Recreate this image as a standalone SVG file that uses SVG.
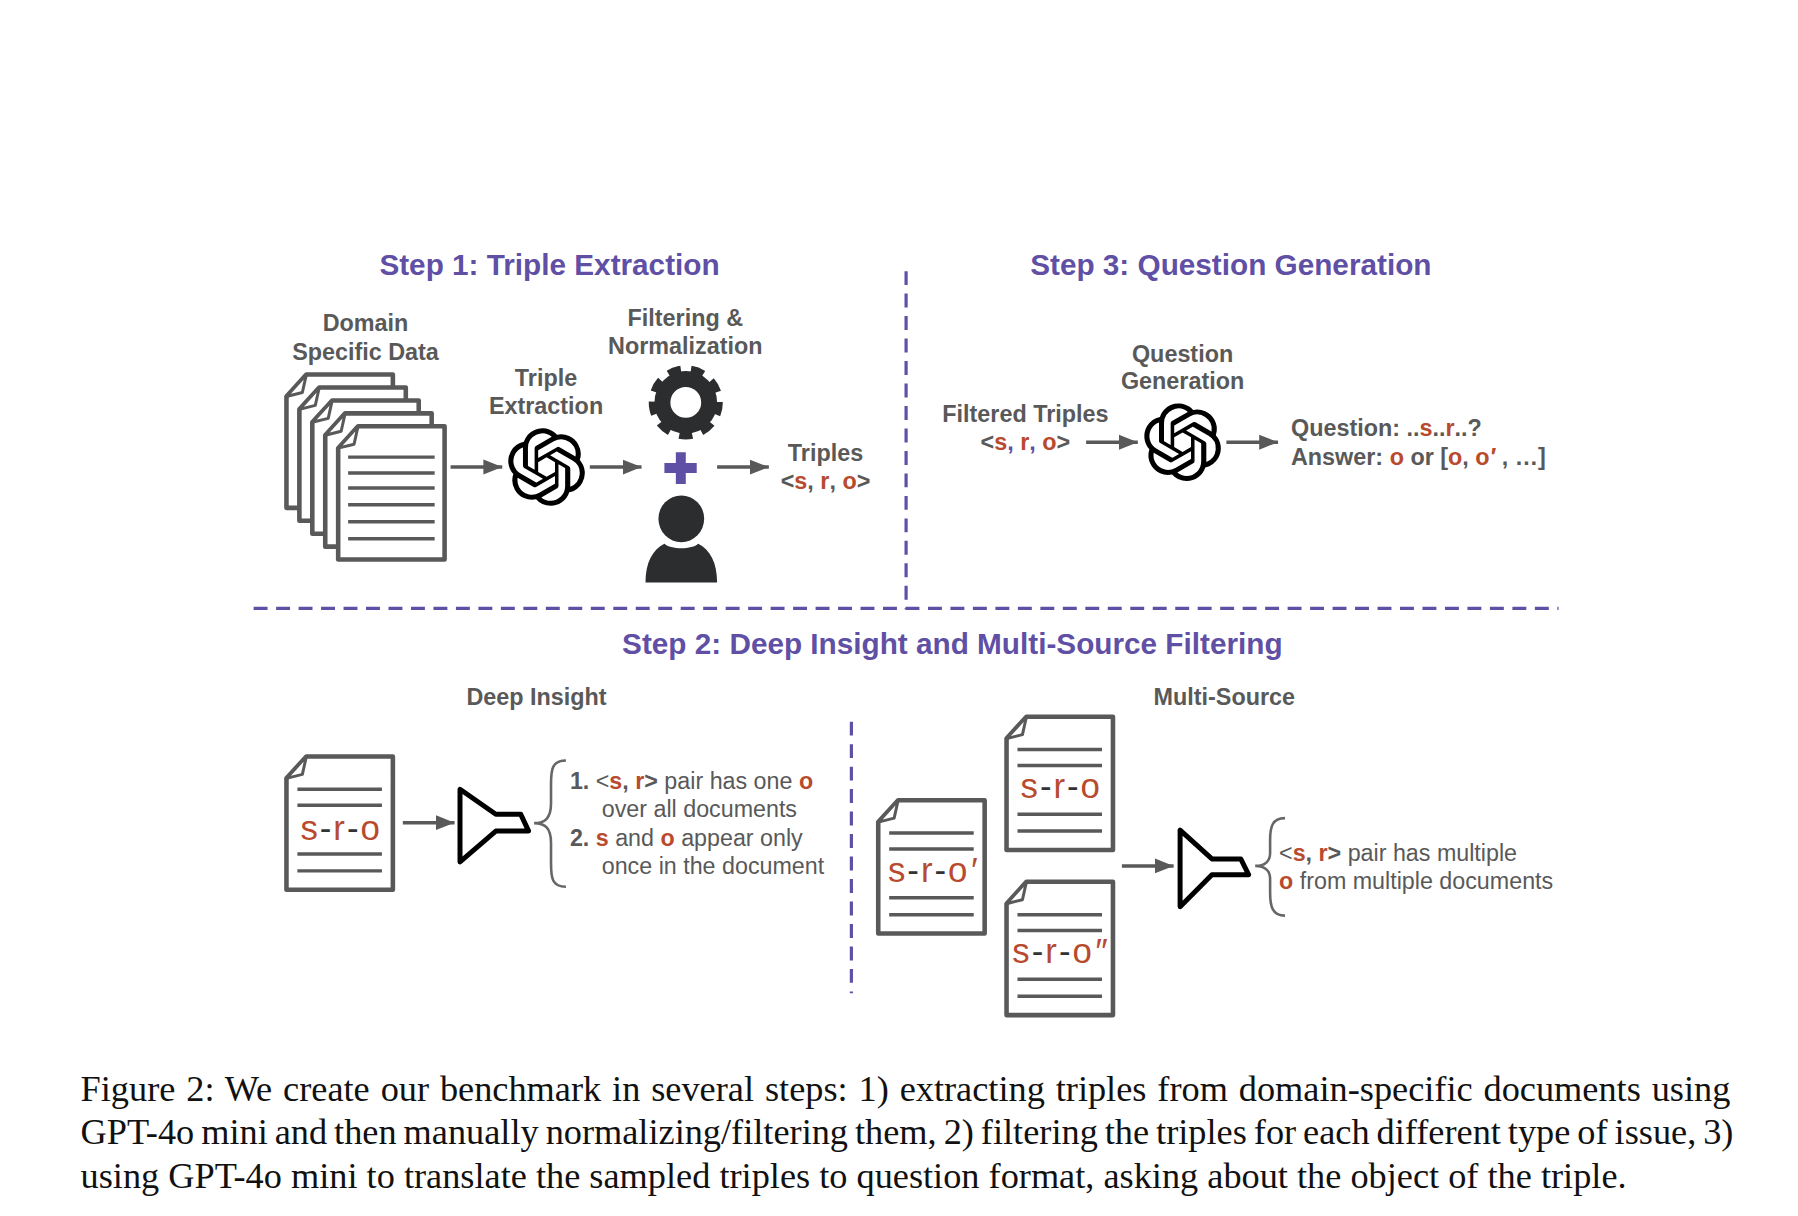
<svg xmlns="http://www.w3.org/2000/svg" width="1798" height="1216" viewBox="0 0 1798 1216">
<style>
text{font-family:"Liberation Sans",Arial,sans-serif}
.title{font-size:29.9px;font-weight:700;fill:#5F4FA5;text-anchor:middle}
.lab{font-size:23.5px;font-weight:700;fill:#595959}
.mid{text-anchor:middle}
.body{font-size:23.4px;fill:#595959}
.b{font-weight:700}
.r{fill:#B84A2E;font-weight:700}
.pu{fill:#5F4FA5}
.sro{font-size:35px;fill:#B84A2E;text-anchor:middle;letter-spacing:2px}
.dk{fill:#333}
.pr{font-style:italic}
.cap{font-family:"Liberation Serif","Times New Roman",serif;font-size:36.5px;fill:#111}
.arr{fill:none;stroke:#595959;stroke-width:3.5;marker-end:url(#ah)}
.dash{fill:none;stroke:#5F4FA5;stroke-width:3.2;stroke-dasharray:14 8.6}
.ln{stroke:#595959;stroke-width:3.5}
.fun{fill:#fff;stroke:#000;stroke-width:5;stroke-linejoin:round}
.brace{fill:none;stroke:#666;stroke-width:2.6}
.ic{fill:#2B2D2F}
</style>
<defs>
<marker id="ah" markerUnits="userSpaceOnUse" markerWidth="20" markerHeight="16" refX="19" refY="8" orient="auto"><path d="M0 0.5 L19 8 L0 15.5 Z" fill="#595959"/></marker>
<g id="page"><path d="M0 22 L20 0 H107 V134 H0 Z" fill="#fff" stroke="#595959" stroke-width="4.6" stroke-linejoin="round"/><path d="M0 22 L16 18 L20 0 Z" fill="#fff" stroke="#595959" stroke-width="3" stroke-linejoin="round"/></g>
<g id="doclines"><path class="ln" d="M11 33 H96 M11 49 H96 M11 98 H96 M11 115 H96"/></g>
<path id="oai" d="M22.2819 9.8211a5.9847 5.9847 0 0 0-.5157-4.9108 6.0462 6.0462 0 0 0-6.5098-2.9A6.0651 6.0651 0 0 0 4.9807 4.1818a5.9847 5.9847 0 0 0-3.9977 2.9 6.0462 6.0462 0 0 0 .7427 7.0966 5.98 5.98 0 0 0 .511 4.9107 6.051 6.051 0 0 0 6.5146 2.9001A5.9847 5.9847 0 0 0 13.2599 24a6.0557 6.0557 0 0 0 5.7718-4.2058 5.9894 5.9894 0 0 0 3.9977-2.9001 6.0557 6.0557 0 0 0-.7475-7.0729zm-9.022 12.6081a4.4755 4.4755 0 0 1-2.8764-1.0408l.1419-.0804 4.7783-2.7582a.7948.7948 0 0 0 .3927-.6813v-6.7369l2.02 1.1686a.071.071 0 0 1 .038.052v5.5826a4.504 4.504 0 0 1-4.4945 4.4944zm-9.6607-4.1254a4.4708 4.4708 0 0 1-.5346-3.0137l.142.0852 4.783 2.7582a.7712.7712 0 0 0 .7806 0l5.8428-3.3685v2.3324a.0804.0804 0 0 1-.0332.0615L9.74 19.9502a4.4992 4.4992 0 0 1-6.1408-1.6464zM2.3408 7.8956a4.485 4.485 0 0 1 2.3655-1.9728V11.6a.7664.7664 0 0 0 .3879.6765l5.8144 3.3543-2.0201 1.1685a.0757.0757 0 0 1-.071 0l-4.8303-2.7865A4.504 4.504 0 0 1 2.3408 7.872zm16.5963 3.8558L13.1038 8.364 15.1192 7.2a.0757.0757 0 0 1 .071 0l4.8303 2.7913a4.4944 4.4944 0 0 1-.6765 8.1042v-5.6772a.79.79 0 0 0-.407-.667zm2.0107-3.0231l-.142-.0852-4.7735-2.7818a.7759.7759 0 0 0-.7854 0L9.409 9.2297V6.8974a.0662.0662 0 0 1 .0284-.0615l4.8303-2.7866a4.4992 4.4992 0 0 1 6.6802 4.66zM8.3065 12.863l-2.02-1.1638a.0804.0804 0 0 1-.038-.0567V6.0742a4.4992 4.4992 0 0 1 7.3757-3.4537l-.142.0805L8.704 5.459a.7948.7948 0 0 0-.3927.6813zm1.0976-2.3654l2.602-1.4998 2.6069 1.4998v2.9994l-2.5974 1.4997-2.6067-1.4997Z" fill="#000"/>
</defs>
<rect width="1798" height="1216" fill="#fff"/>
<g transform="translate(1 0.6) scale(0.9946)">
<g id="connectors">
<path class="arr" d="M452 469H504"/>
<path class="arr" d="M592 469H644"/>
<path class="arr" d="M720 469H772"/>
<path class="arr" d="M1091 444H1143"/>
<path class="arr" d="M1232 444H1284"/>
<path class="arr" d="M404 826.5H456"/>
<path class="arr" d="M1127 870H1179"/>
</g>
<g id="dividers">
<path class="dash" d="M254 611H1566"/>
<path class="dash" d="M910 272V612"/>
<path class="dash" d="M855 725V998"/>
</g>

<g id="titles">
<text class="title" x="551.5" y="276">Step 1: Triple Extraction</text>
<text class="title" x="1236.5" y="276">Step 3: Question Generation</text>
<text class="title" x="956.5" y="657">Step 2: Deep Insight and Multi-Source Filtering</text>
</g>

<g id="domain-data">
<text class="lab mid" x="366.5" y="332">Domain</text>
<text class="lab mid" x="366.5" y="361">Specific Data</text>
<use href="#page" x="287" y="376"/>
<use href="#page" x="300" y="389"/>
<use href="#page" x="313" y="402"/>
<use href="#page" x="326" y="415"/>
<use href="#page" x="339" y="428"/>
<path class="ln" d="M349 459H436M349 475H436M349 490H436M349 507H436M349 524H436M349 541H436"/>
</g>

<g id="triple-extraction">
<text class="lab mid" x="548" y="388">Triple</text>
<text class="lab mid" x="548" y="416">Extraction</text>
<use href="#oai" transform="translate(509.5 430) scale(3.25)"/>
</g>

<g id="filtering">
<text class="lab mid" x="688" y="327">Filtering &amp;</text>
<text class="lab mid" x="688" y="355">Normalization</text>
<circle cx="688.5" cy="404" r="23.5" fill="none" stroke="#2B2D2F" stroke-width="16"/>
<circle cx="688.5" cy="404" r="33" fill="none" stroke="#2B2D2F" stroke-width="8.5" stroke-dasharray="13 10.04" transform="rotate(78.7 688.5 404)"/>
<path class="pu" d="M678.5 454H688.5V465H699.5V475H688.5V486H678.5V475H667V465H678.5Z"/>
<ellipse class="ic" cx="684" cy="521" rx="23" ry="23.5"/>
<path class="ic" d="M648 585C648 565 655 552 667 546C673 552 695 552 701 546C713 552 720 565 720 585Z"/>
</g>

<g id="triples-out">
<text class="lab mid" x="829" y="463">Triples</text>
<text class="lab mid" x="829" y="491">&lt;<tspan class="r">s</tspan>, <tspan class="r">r</tspan>, <tspan class="r">o</tspan>&gt;</text>
</g>

<g id="filtered-triples">
<text class="lab mid" x="1030" y="424">Filtered Triples</text>
<text class="lab mid" x="1030" y="452">&lt;<tspan class="r">s</tspan><tspan class="pu">, </tspan><tspan class="r">r</tspan><tspan class="pu">, </tspan><tspan class="r">o</tspan>&gt;</text>
</g>

<g id="question-generation">
<text class="lab mid" x="1188" y="363">Question</text>
<text class="lab mid" x="1188" y="391">Generation</text>
<use href="#oai" transform="translate(1149 405) scale(3.25)"/>
</g>

<g id="question-answer">
<text class="lab" x="1297" y="438">Question: ..<tspan class="r">s</tspan>..<tspan class="r">r</tspan>..?</text>
<text class="lab" x="1297" y="467">Answer: <tspan class="r">o</tspan> or [<tspan class="r">o</tspan>, <tspan class="r">o</tspan><tspan class="r pr" font-weight="400">′</tspan> , …]</text>
</g>

<g id="deep-insight">
<text class="lab mid" x="538.4" y="708">Deep Insight</text>
<use href="#page" x="287" y="760"/>
<use href="#doclines" x="287" y="760"/>
<text class="sro" x="342" y="844">s<tspan class="dk">-</tspan>r<tspan class="dk">-</tspan>o</text>
<path class="fun" d="M461.5 793V866L497.5 835H530.5L522.5 818H497.5Z"/>
<path class="brace" d="M568 764C554 764 553 773 553 788V807C553 822 547 827 536 827C547 827 553 832 553 847V867C553 882 554 891 568 891"/>
<text class="body" x="572" y="793"><tspan class="b">1.</tspan></text>
<text class="body" x="598" y="793">&lt;<tspan class="r">s</tspan><tspan class="b">,</tspan> <tspan class="r">r</tspan><tspan class="b">&gt;</tspan> pair has one <tspan class="r">o</tspan></text>
<text class="body" x="604" y="821">over all documents</text>
<text class="body" x="572" y="850"><tspan class="b">2.</tspan></text>
<text class="body" x="598" y="850"><tspan class="r">s</tspan> and <tspan class="r">o</tspan> appear only</text>
<text class="body" x="604" y="878">once in the document</text>
</g>

<g id="multi-source">
<text class="lab mid" x="1230" y="708">Multi-Source</text>
<use href="#page" x="1011" y="720"/>
<use href="#doclines" x="1011" y="720"/>
<text class="sro" x="1066" y="802">s<tspan class="dk">-</tspan>r<tspan class="dk">-</tspan>o</text>
<use href="#page" x="882" y="804"/>
<use href="#doclines" x="882" y="804"/>
<text class="sro" x="937" y="886">s<tspan class="dk">-</tspan>r<tspan class="dk">-</tspan>o<tspan class="pr">′</tspan></text>
<use href="#page" x="1011" y="886"/>
<use href="#doclines" x="1011" y="886"/>
<text class="sro" x="1065" y="968">s<tspan class="dk">-</tspan>r<tspan class="dk">-</tspan>o<tspan class="pr">″</tspan></text>
<path class="fun" d="M1185.5 834V911L1217.5 879H1254.5L1246.5 863H1217.5Z"/>
<path class="brace" d="M1291 822C1278 822 1276 831 1276 844V857C1276 865 1271 870 1261 870C1271 870 1276 875 1276 883V897C1276 910 1278 920 1291 920"/>
<text class="body" x="1285" y="865">&lt;<tspan class="r">s</tspan><tspan class="b">,</tspan> <tspan class="r">r</tspan><tspan class="b">&gt;</tspan> pair has multiple</text>
<text class="body" x="1285" y="893"><tspan class="r">o</tspan> from multiple documents</text>
</g>

<g id="caption">
<text class="cap" x="80" y="1106" word-spacing="1.85">Figure 2: We create our benchmark in several steps: 1) extracting triples from domain-specific documents using</text>
<text class="cap" x="80" y="1150" word-spacing="-2.1">GPT-4o mini and then manually normalizing/filtering them, 2) filtering the triples for each different type of issue, 3)</text>
<text class="cap" x="80" y="1194">using GPT-4o mini to translate the sampled triples to question format, asking about the object of the triple.</text>
</g>
</g>
</svg>
